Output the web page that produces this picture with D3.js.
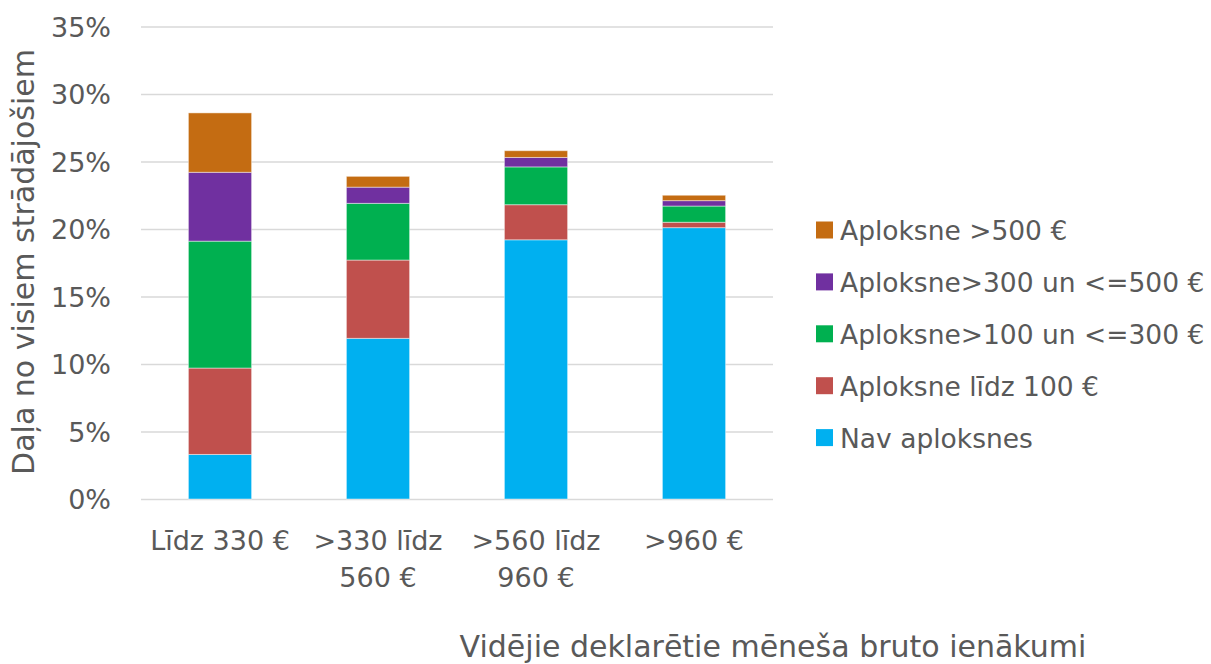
<!DOCTYPE html>
<html>
<head>
<meta charset="utf-8">
<script src="https://cdn.jsdelivr.net/npm/d3@7"></script>
<style>
  body { margin: 0; background: #fff; }
  text { font-family: "DejaVu Sans", sans-serif; fill: #595959; }
</style>
</head>
<body>
<svg id="chart" width="1211" height="664"></svg>
<script>
// categories (x axis) - each label split into its lines
var categories = ["Līdz 330 €", ">330 līdz 560 €", ">560 līdz 960 €", ">960 €"];
var categoryLines = [["Līdz 330 €"], [">330 līdz", "560 €"], [">560 līdz", "960 €"], [">960 €"]];

// series, in % of all workers, bottom to top
var seriesNames = ["Nav aploksnes", "Aploksne līdz 100 €", "Aploksne>100 un <=300 €", "Aploksne>300 un <=500 €", "Aploksne >500 €"];
var navAploksnes = [3.3, 11.9, 19.2, 20.1];
var lidz100 = [6.4, 5.8, 2.6, 0.4];
var no100lidz300 = [9.4, 4.2, 2.8, 1.2];
var no300lidz500 = [5.1, 1.2, 0.7, 0.4];
var virs500 = [4.4, 0.8, 0.5, 0.4];
var colors = ["#00B0F0", "#C0504D", "#00B050", "#7030A0", "#C46C12"];

var yTicks = [0, 5, 10, 15, 20, 25, 30, 35];

var svg = d3.select("#chart");

var x = d3.scaleBand()
  .domain(categories)
  .range([141, 773])
  .paddingInner(0.6)
  .paddingOuter(0.3);

var y = d3.scaleLinear()
  .domain([0, 35])
  .range([499, 26.5]);

// build the table for d3.stack
var allSeries = [navAploksnes, lidz100, no100lidz300, no300lidz500, virs500];
var table = categories.map(function(c, i) {
  var row = {cat: c};
  seriesNames.forEach(function(s, k) { row[s] = allSeries[k][i]; });
  return row;
});
var stacked = d3.stack().keys(seriesNames)(table);

// gridlines
svg.append("g")
  .attr("transform", "translate(141,0)")
  .call(d3.axisLeft(y).tickValues(yTicks).tickSize(-(773 - 141)).tickFormat(""))
  .call(function(g) { g.select(".domain").remove(); })
  .selectAll("line")
    .attr("stroke", "#d9d9d9")
    .attr("stroke-width", 1.4);

// y tick labels
svg.append("g")
  .attr("transform", "translate(141,0)")
  .call(d3.axisLeft(y).tickValues(yTicks).tickSize(0).tickPadding(30).tickFormat(function(d) { return d + "%"; }))
  .call(function(g) { g.select(".domain").remove(); })
  .selectAll("text")
    .attr("font-size", 27)
    .attr("font-family", "DejaVu Sans")
    .attr("fill", "#595959")
    .attr("dy", "0.36em");

// bars
var layers = svg.append("g").selectAll("g")
  .data(stacked)
  .enter()
    .append("g")
    .attr("fill", function(d, i) { return colors[i]; });

layers.selectAll("rect")
  .data(function(d) { return d; })
  .enter()
    .append("rect")
    .attr("x", function(d) { return x(d.data.cat); })
    .attr("y", function(d) { return y(d[1]); })
    .attr("width", x.bandwidth())
    .attr("height", function(d) { return y(d[0]) - y(d[1]); })
    .attr("stroke", "rgba(255,255,255,0.45)")
    .attr("stroke-width", 1);

// x tick labels
var xAxis = svg.append("g")
  .attr("transform", "translate(0,499)")
  .call(d3.axisBottom(x).tickSize(0).tickFormat(""));
xAxis.select(".domain").remove();
xAxis.selectAll(".tick text")
  .attr("y", 0)
  .attr("dy", null)
  .attr("font-size", 27)
  .attr("font-family", "DejaVu Sans")
  .attr("fill", "#595959")
  .each(function(d, i) {
    var t = d3.select(this);
    categoryLines[i].forEach(function(line, j) {
      t.append("tspan").attr("x", 0).attr("y", 51 + j * 37).text(line);
    });
  });

// axis titles
svg.append("text")
  .attr("transform", "translate(34,262) rotate(-90)")
  .attr("text-anchor", "middle")
  .attr("font-size", 30)
  .text("Daļa no visiem strādājošiem");

svg.append("text")
  .attr("x", 773)
  .attr("y", 657)
  .attr("text-anchor", "middle")
  .attr("font-size", 30)
  .text("Vidējie deklarētie mēneša bruto ienākumi");

// legend (top entry is the top of the stack)
var legendOrder = d3.range(seriesNames.length).reverse();
var legend = svg.append("g").selectAll("g")
  .data(legendOrder)
  .enter()
    .append("g")
    .attr("transform", function(d, i) { return "translate(816," + (230 + i * 51.9) + ")"; });

legend.append("rect")
  .attr("x", 0)
  .attr("y", -8.5)
  .attr("width", 17)
  .attr("height", 17)
  .attr("fill", function(d) { return colors[d]; });

legend.append("text")
  .attr("x", 24)
  .attr("y", 10)
  .attr("font-size", 26.5)
  .text(function(d) { return seriesNames[d]; });
</script>
</body>
</html>
